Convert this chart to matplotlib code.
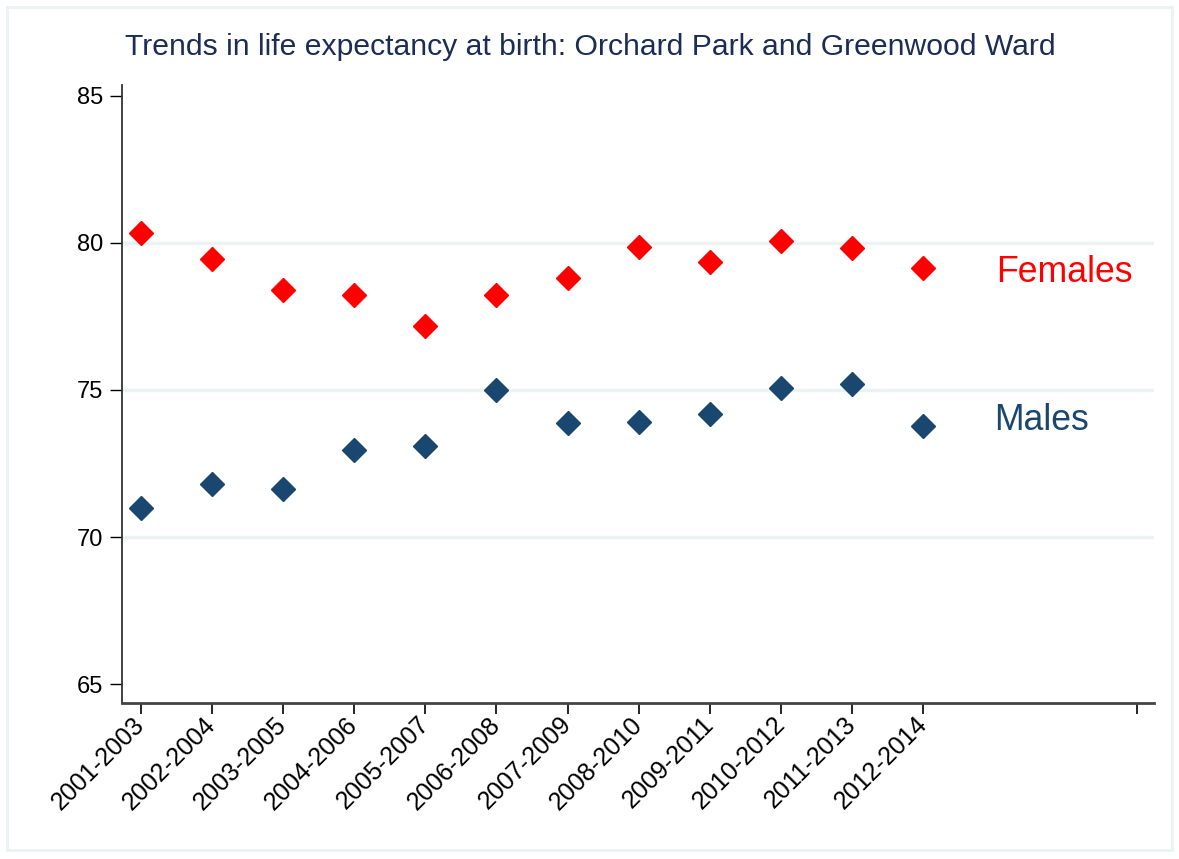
import matplotlib.pyplot as plt
from matplotlib.patches import Rectangle

plt.rcParams['font.family'] = ['Liberation Sans', 'DejaVu Sans']

periods = ['2001-2003', '2002-2004', '2003-2005', '2004-2006', '2005-2007', '2006-2008',
           '2007-2009', '2008-2010', '2009-2011', '2010-2012', '2011-2013', '2012-2014']
females = [80.33, 79.45, 78.41, 78.21, 77.16, 78.24, 78.79, 79.85, 79.36, 80.07, 79.82, 79.13]
males = [70.99, 71.81, 71.64, 72.95, 73.09, 75.0, 73.89, 73.90, 74.19, 75.08, 75.20, 73.76]

red = '#ff0000'
navy = '#1a476f'

fig = plt.figure(figsize=(11.79, 8.59), dpi=100)
fig.patches.append(Rectangle((0.006, 0.01), 0.988, 0.982, transform=fig.transFigure,
                             fill=False, edgecolor='#eaf2f3', linewidth=2))
ax = fig.add_axes([0.1035, 0.182, 0.8753, 0.719])

x = list(range(len(periods)))
ax.plot(x, females, linestyle='none', marker='D', markersize=12, color=red)
ax.plot(x, males, linestyle='none', marker='D', markersize=12, color=navy)

ax.text(12.02, 79.0, 'Females', color=red, fontsize=25.7, va='center', ha='left')
ax.text(12.0, 73.95, 'Males', color=navy, fontsize=25.7, va='center', ha='left')

ax.set_xlim(-0.26, 14.24)
ax.set_ylim(64.37, 85.36)
ax.set_yticks([65, 70, 75, 80, 85])
ax.set_xticks(x + [14])
ax.set_xticklabels(periods + [''], rotation=45, ha='right', va='center',
                   rotation_mode='anchor', fontsize=18)
ax.tick_params(axis='y', labelsize=17, length=9, width=1, direction='out', pad=4.5)
ax.tick_params(axis='x', length=8, width=1.2, direction='out', pad=5)

for g in [70, 75, 80]:
    ax.axhline(g, color='#eaf2f3', linewidth=2.5, zorder=0)

ax.spines['top'].set_visible(False)
ax.spines['right'].set_visible(False)
ax.spines['left'].set_color('#333333')
ax.spines['bottom'].set_color('#444444')
ax.spines['left'].set_linewidth(1.3)
ax.spines['bottom'].set_linewidth(2)

fig.text(0.106, 0.936, 'Trends in life expectancy at birth: Orchard Park and Greenwood Ward',
         color='#1c2d55', fontsize=21.7, ha='left', va='baseline')

fig.savefig('out.png', dpi=100)
